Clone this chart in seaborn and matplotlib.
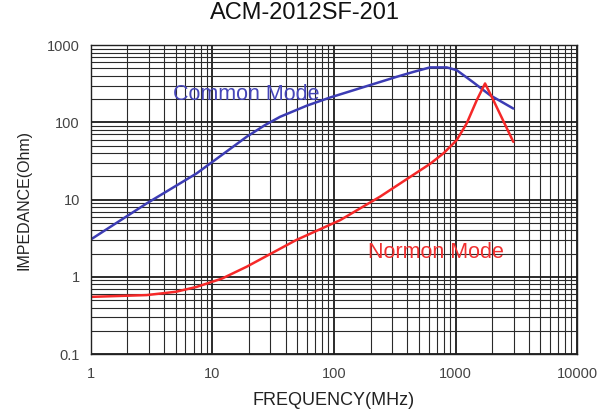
import pandas as pd
import seaborn as sns
import matplotlib.pyplot as plt
from matplotlib.ticker import LogLocator, FixedLocator, FixedFormatter, NullFormatter

# Values
common_freq = [1, 2.87, 7.4, 12, 19.1, 27, 36, 60, 93, 180, 328, 450, 617, 847, 1023, 1400, 1923, 2990]
common_imp = [3.05, 8.9, 21.8, 38, 65, 92, 118, 165, 210, 290, 389, 450, 515, 515, 474, 330, 225, 151]

normal_freq = [1, 2.87, 5, 7.4, 12, 19.1, 49, 112, 239, 617, 800, 1023, 1236, 1496, 1750, 2048, 2990]
normal_imp = [0.55, 0.58, 0.64, 0.74, 0.95, 1.35, 3.0, 5.4, 10.9, 29, 40, 59, 97, 194, 319, 194, 56]

x_ticks = [1, 10, 100, 1000, 10000]
x_labels = ['1', '10', '100', '1000', '10000']
y_ticks = [0.1, 1, 10, 100, 1000]
y_labels = ['0.1', '1', '10', '100', '1000']

df_common = pd.DataFrame({'freq': common_freq, 'imp': common_imp})
df_normal = pd.DataFrame({'freq': normal_freq, 'imp': normal_imp})

sns.set_style('white')
plt.rcParams['font.family'] = ['Liberation Sans', 'DejaVu Sans']

fig = plt.figure(figsize=(6.1, 4.18), dpi=100)
ax = fig.add_axes([0.149, 0.153, 0.797, 0.739])
ax.set_xscale('log')
ax.set_yscale('log')

sns.lineplot(data=df_common, x='freq', y='imp', ax=ax, color='#3c3cb4', linewidth=1.8)
sns.lineplot(data=df_normal, x='freq', y='imp', ax=ax, color='#f52828', linewidth=1.8)

ax.set_xlim(1, 10000)
ax.set_ylim(0.1, 1000)

ax.xaxis.set_major_locator(FixedLocator(x_ticks))
ax.xaxis.set_major_formatter(FixedFormatter(x_labels))
ax.yaxis.set_major_locator(FixedLocator(y_ticks))
ax.yaxis.set_major_formatter(FixedFormatter(y_labels))
ax.xaxis.set_minor_locator(LogLocator(base=10, subs=range(2, 10), numticks=20))
ax.yaxis.set_minor_locator(LogLocator(base=10, subs=range(2, 10), numticks=20))
ax.xaxis.set_minor_formatter(NullFormatter())
ax.yaxis.set_minor_formatter(NullFormatter())

ax.grid(which='major', color='#1a1a1a', linewidth=1.3)
ax.grid(which='minor', color='#2a2a2a', linewidth=0.8)
ax.tick_params(which='both', length=0, labelsize=10.5, colors='#444444')
ax.tick_params(axis='x', pad=9)
ax.tick_params(axis='y', pad=8)
for s in ax.spines.values():
    s.set_color('#222222')
    s.set_linewidth(1.0)

ax.annotate('Common Mode', xy=(173, 418 - 95), xycoords='figure pixels',
            color='#4646b8', fontsize=15.5, va='center', ha='left')
ax.annotate('Normon Mode', xy=(368, 418 - 253), xycoords='figure pixels',
            color='#f03030', fontsize=15.5, va='center', ha='left')

ax.set_xlabel('FREQUENCY(MHz)', fontsize=13, color='#222222', labelpad=8)
ax.set_ylabel('IMPEDANCE(Ohm)', fontsize=11.5, color='#222222', labelpad=11)
fig.suptitle('ACM-2012SF-201', fontsize=17, x=0.5, y=0.995, color='#111111')

plt.savefig('out.png', dpi=100)
